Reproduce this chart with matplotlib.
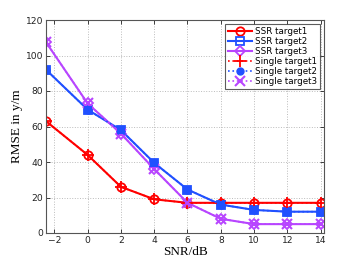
import matplotlib
matplotlib.use("Agg")
import matplotlib.pyplot as plt

snr = [-2.5, 0, 2, 4, 6, 8, 10, 12, 14]
ssr_t1 = [63, 44, 26, 19, 17, 17, 17, 17, 17]
ssr_t2 = [92, 69.5, 58, 39.5, 24.5, 16, 13, 12, 12]
ssr_t3 = [107.5, 73, 56, 36, 17, 8, 5, 5, 5]
single_t1 = [63, 44, 26, 19, 17, 17, 17, 17, 17]
single_t2 = [92, 69.5, 58, 39.5, 24.5, 16, 13, 12, 12]
single_t3 = [107.5, 73, 56, 36, 17, 8, 5, 5, 5]
xticks = [-2, 0, 2, 4, 6, 8, 10, 12, 14]
yticks = [0, 20, 40, 60, 80, 100, 120]

red = "#ff0000"
blue = "#2050ff"
purple = "#b845ff"

fig = plt.figure(figsize=(3.54, 2.62), dpi=100)
ax = fig.add_axes([46/354, 1-233/262, (324-46)/354, (233-20)/262])

ax.plot(snr, ssr_t1, color=red, lw=1.5, marker="o", ms=6, mfc="none", mew=1.3, label="SSR target1")
ax.plot(snr, ssr_t2, color=blue, lw=1.5, marker="s", ms=6, mfc="none", mew=1.3, label="SSR target2")
ax.plot(snr, ssr_t3, color=purple, lw=1.5, marker="D", ms=5, mfc="none", mew=1.3, label="SSR target3")
ax.plot(snr, single_t1, color=red, lw=1.2, ls=":", marker="+", ms=8, mew=1.3, label="Single target1")
ax.plot(snr, single_t2, color=blue, lw=1.2, ls=":", marker="o", ms=5, mew=1.0, label="Single target2")
ax.plot(snr, single_t3, color=purple, lw=1.2, ls=":", marker="x", ms=7, mew=1.5, label="Single target3")
ax.plot(snr, ssr_t2, color=blue, lw=0, marker="s", ms=6, mfc=blue, mew=0)

ax.set_xlim(-2.5, 14.2)
ax.set_ylim(0, 120)
ax.set_xticks(xticks)
ax.set_yticks(yticks)
ax.set_xticklabels(["\u22122" if v == -2 else str(v) for v in xticks])
ax.tick_params(labelsize=6.6, direction="in", length=3, width=0.6, colors="#222222", pad=2,
               top=True, right=True)
ax.grid(True, ls=":", color="#bbbbbb", lw=0.7)
for s in ax.spines.values():
    s.set_color("#555555")
    s.set_linewidth(0.8)
ax.set_xlabel("SNR/dB", fontfamily="Liberation Serif", fontsize=9.5, labelpad=1)
ax.set_ylabel("RMSE in y/m", fontfamily="Liberation Serif", fontsize=9.5, labelpad=2)

leg = ax.legend(loc="upper right", fontsize=6.3, frameon=True, fancybox=False,
                edgecolor="#333333", borderpad=0.3, labelspacing=0.12,
                handlelength=2.8, handletextpad=0.3, borderaxespad=0.5)
leg.get_frame().set_linewidth(0.8)

fig.savefig("out.png", dpi=100)
